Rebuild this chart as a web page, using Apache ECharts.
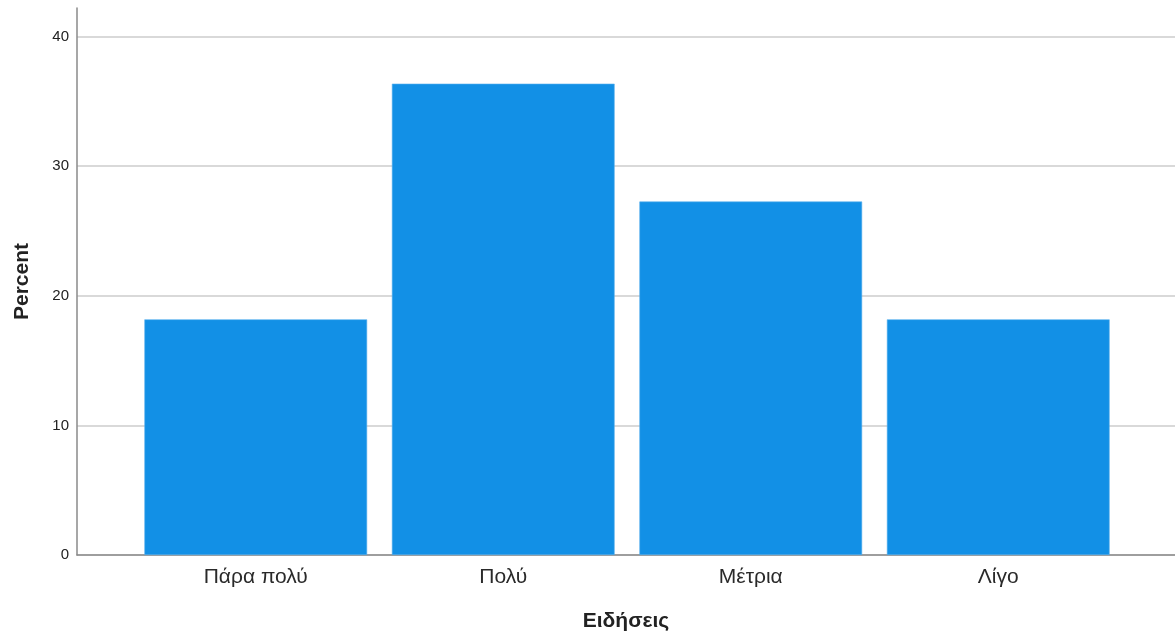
<!DOCTYPE html>
<html>
<head>
<meta charset="utf-8">
<script src="https://cdn.jsdelivr.net/npm/echarts@6/dist/echarts.min.js"></script>
<style>html,body{margin:0;padding:0;background:#fff}#c{width:1175px;height:634px}</style>
</head>
<body>
<div id="c"></div>
<script>
const categories = ['Πάρα πολύ', 'Πολύ', 'Μέτρια', 'Λίγο'];
const percentValues = [18.18, 36.36, 27.27, 18.18];
const yTicks = [0, 10, 20, 30, 40];

const chart = echarts.init(document.getElementById('c'), null, {renderer: 'canvas'});
const font = '"Liberation Sans", Arial, sans-serif';
const yMax = 42.2;
chart.setOption({
  animation: false,
  backgroundColor: '#ffffff',
  grid: [
    {left: 77, right: 0, top: 8, bottom: 79, containLabel: false, outerBoundsMode: 'none'},
    {left: 132, right: 53, top: 8, bottom: 79, containLabel: false, outerBoundsMode: 'none'}
  ],
  xAxis: [
    {
      gridIndex: 0, type: 'category', data: [''],
      axisLine: {show: true, lineStyle: {color: '#8a8a8a', width: 1.5}},
      axisTick: {show: false}, axisLabel: {show: false}, splitLine: {show: false},
      name: 'Ειδήσεις', nameLocation: 'middle', nameGap: 56,
      nameTextStyle: {fontFamily: font, fontSize: 21, fontWeight: 'bold', color: '#222'}
    },
    {
      gridIndex: 1, type: 'category', data: categories,
      axisLine: {show: false}, axisTick: {show: false}, splitLine: {show: false},
      axisLabel: {fontFamily: font, fontSize: 21, color: '#2a2a2a', margin: 12}
    }
  ],
  yAxis: [
    {
      gridIndex: 0, type: 'value', min: yTicks[0], max: yMax, interval: 10,
      axisLine: {show: true, lineStyle: {color: '#8a8a8a', width: 1.5}},
      axisTick: {show: false},
      axisLabel: {fontFamily: font, fontSize: 15, color: '#222', margin: 8, showMaxLabel: false,
        padding: [0, 0, 5, 0],
        formatter: v => yTicks.includes(v) ? String(v) : ''},
      splitLine: {show: true, showMaxLine: false, lineStyle: {color: '#cccccc', width: 1.5}},
      name: 'Percent', nameLocation: 'middle', nameGap: 44, nameRotate: 90,
      nameTextStyle: {fontFamily: font, fontSize: 21, fontWeight: 'bold', color: '#222'}
    },
    {
      gridIndex: 1, type: 'value', min: yTicks[0], max: yMax, interval: 10, show: false,
      splitLine: {show: false}
    }
  ],
  series: [{
    type: 'bar', xAxisIndex: 1, yAxisIndex: 1,
    data: percentValues,
    barCategoryGap: '10%',
    itemStyle: {color: '#1290e6', borderColor: '#5cb2ee', borderWidth: 0.6}
  }]
});
</script>
</body>
</html>
